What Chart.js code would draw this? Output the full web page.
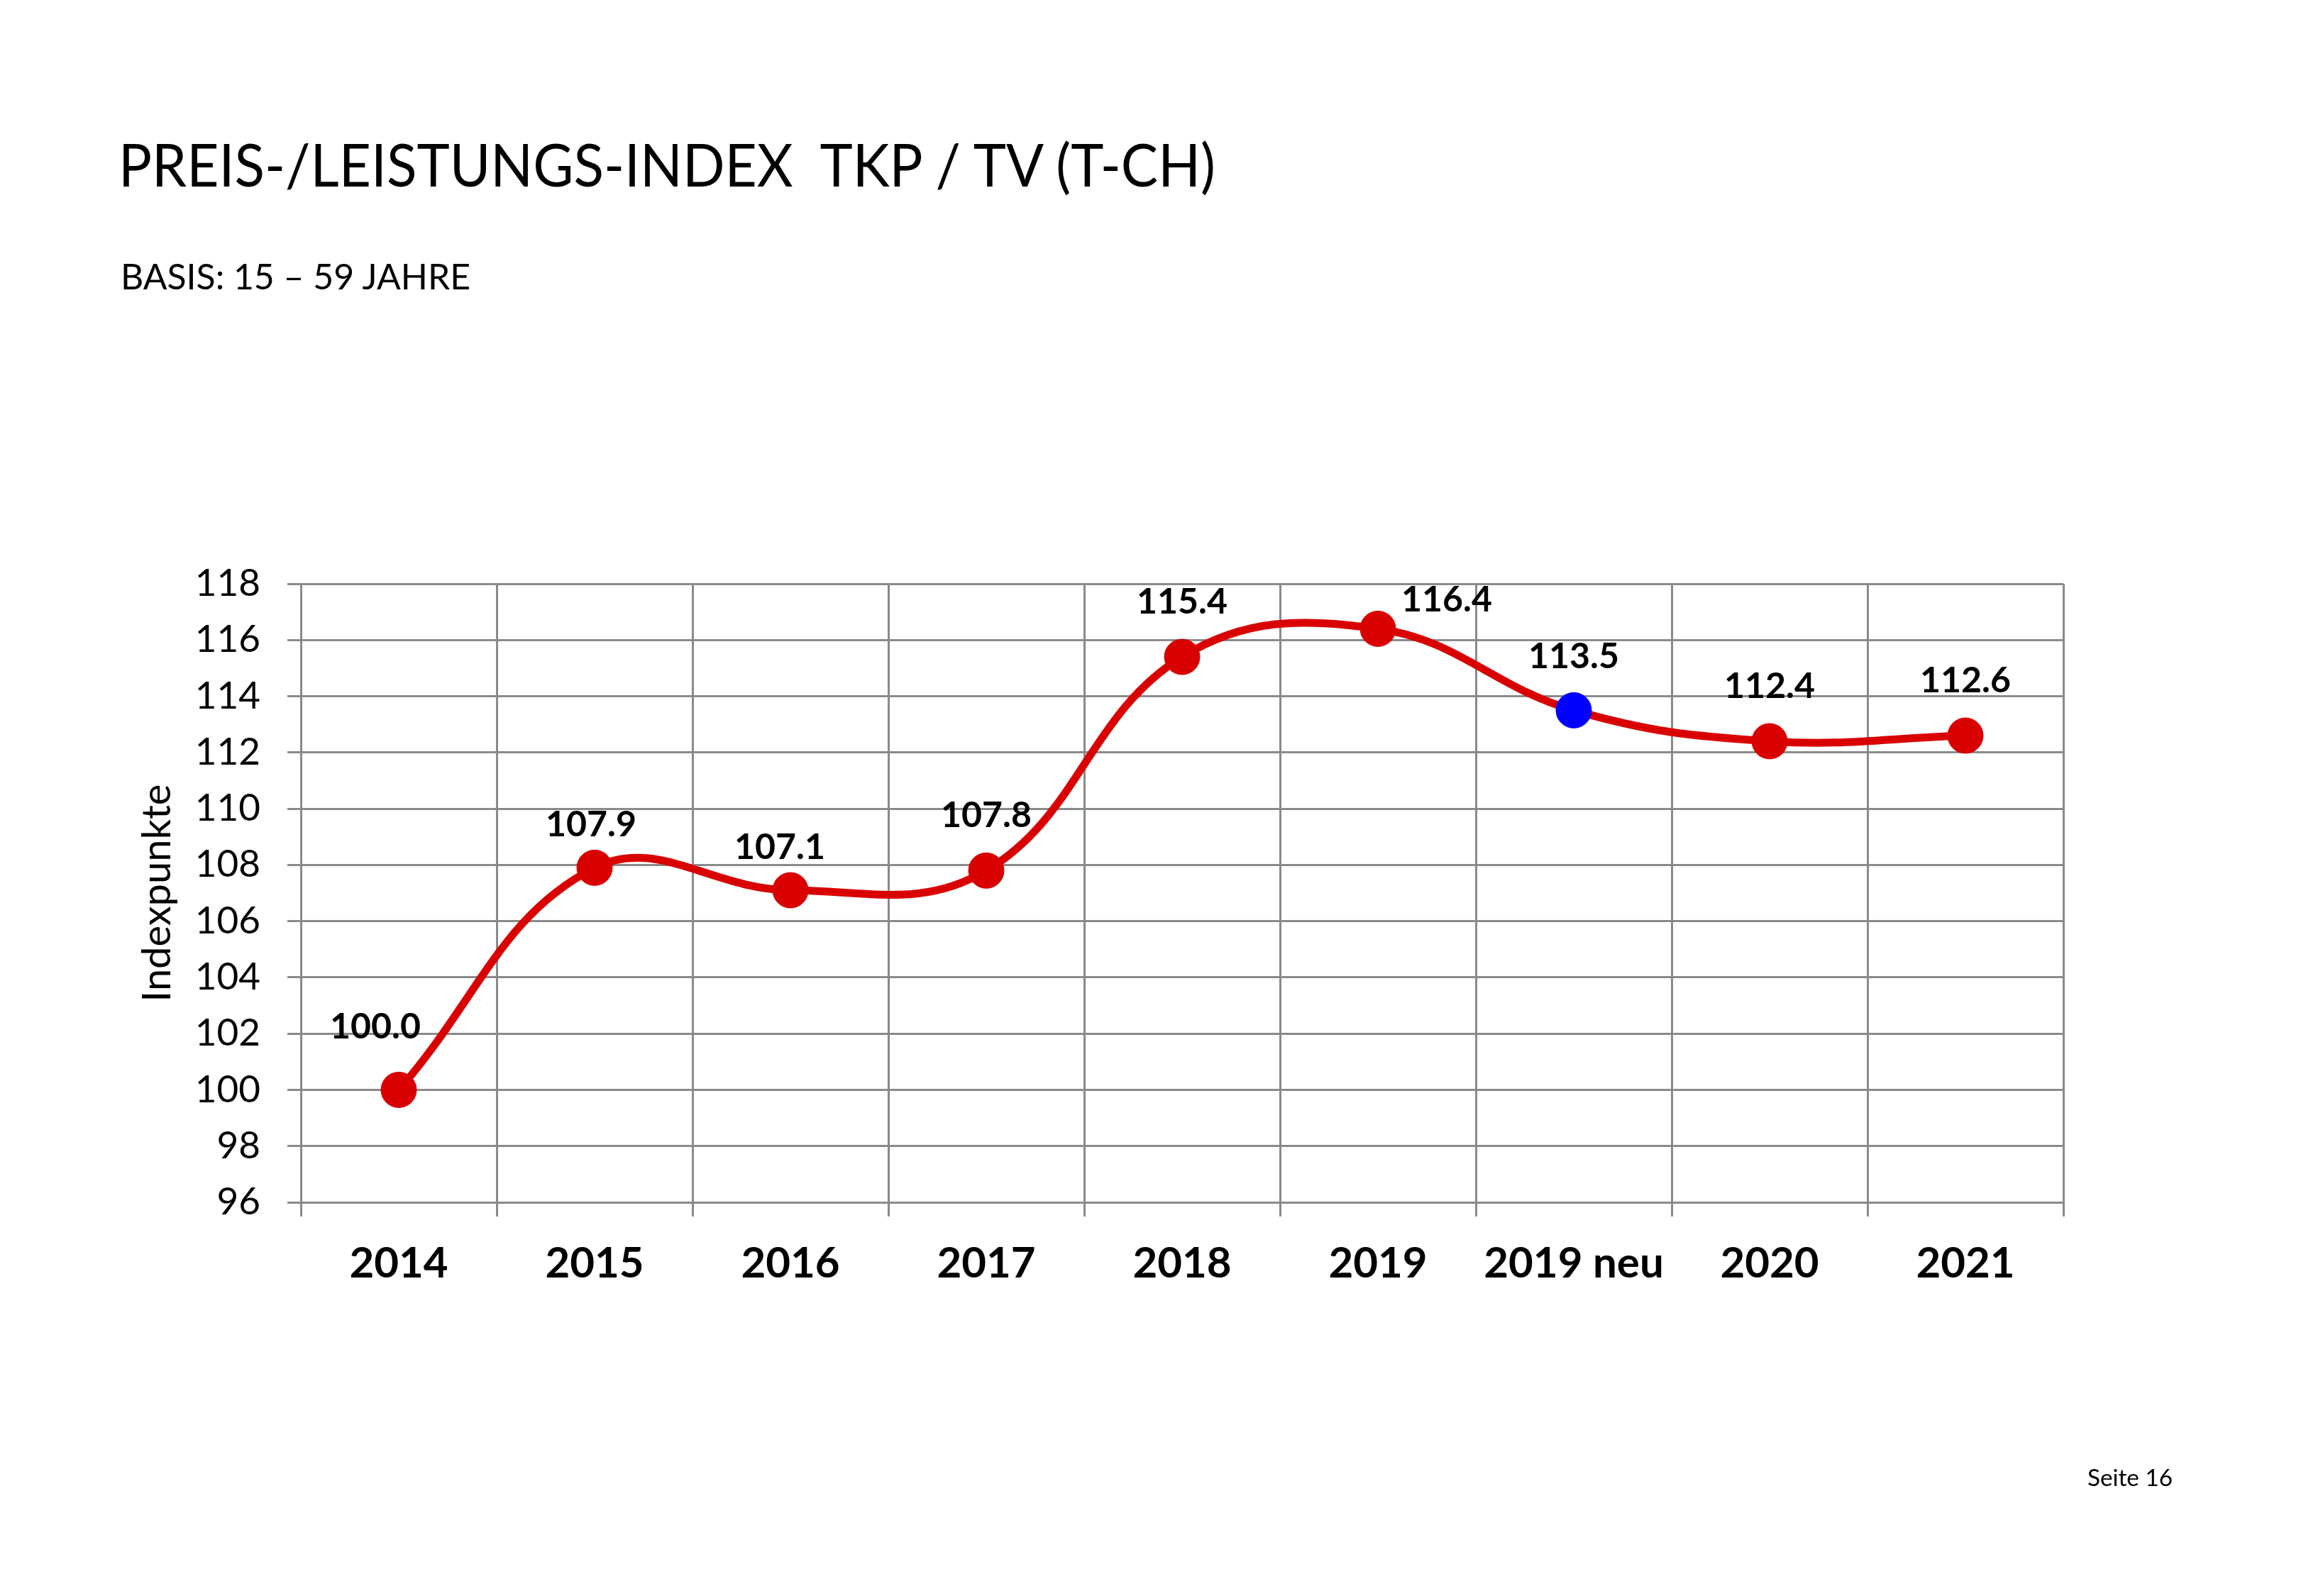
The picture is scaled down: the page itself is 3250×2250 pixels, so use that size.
<!DOCTYPE html>
<html>
<head>
<meta charset="utf-8">
<script src="https://cdn.jsdelivr.net/npm/chart.js@4.4.0/dist/chart.umd.min.js"></script>
<style>
  html, body { margin: 0; padding: 0; background: #fff; }
  #page { position: relative; width: 3250px; height: 2250px; overflow: hidden; background: #fff; }
  #chart { position: absolute; left: 0; top: 0; }
  .txt { position: absolute; white-space: nowrap; line-height: 1; font-family: Lato, "Open Sans", sans-serif; color: #000; transform-origin: 0 0; }
</style>
</head>
<body>
<div id="page">
  <canvas id="chart" width="3250" height="2250"></canvas>
  <div class="txt" id="title" data-w="1546" style="left:167px; top:189px; font-size:84px;">PREIS-/LEISTUNGS-INDEX&nbsp; TKP / TV (T-CH)</div>
  <div class="txt" id="subtitle" data-w="493" style="left:170px; top:364px; font-size:50px;">BASIS: 15 – 59 JAHRE</div>
  <div class="txt" id="footer" data-w="120" style="left:2942px; top:2067px; font-size:32px;">Seite 16</div>
</div>
<script>
// Werte aus der Grafik
const categories = ['2014', '2015', '2016', '2017', '2018', '2019', '2019 neu', '2020', '2021'];
const indexValues = [100.0, 107.9, 107.1, 107.8, 115.4, 116.4, 113.5, 112.4, 112.6];
const yTickValues = [96, 98, 100, 102, 104, 106, 108, 110, 112, 114, 116, 118];
const highlightCategory = '2019 neu';

// Stil
const red = '#D90000';
const blue = '#0000FF';
const gridGray = '#8a8a8a';
// Versatz der Wertebeschriftung (px) relativ zum Punkt
const labelOffsets = [[-33, -89], [-5, -60], [-15, -60], [0, -77], [0, -77], [97, -41], [0, -75], [0, -77], [0, -77]];

// Titeltexte auf Breite bringen
document.querySelectorAll('.txt').forEach(el => {
    const w = el.getBoundingClientRect().width;
    el.style.transform = 'scaleX(' + (Number(el.dataset.w) / w) + ')';
});

const valueLabels = {
    id: 'valueLabels',
    afterDatasetsDraw(chart) {
        const ctx = chart.ctx;
        const meta = chart.getDatasetMeta(0);
        ctx.save();
        ctx.font = 'bold 50px Lato';
        ctx.fillStyle = '#000';
        ctx.textAlign = 'center';
        ctx.textBaseline = 'middle';
        meta.data.forEach((pt, i) => {
            const off = labelOffsets[i];
            ctx.fillText(indexValues[i].toFixed(1), pt.x + off[0], pt.y + off[1]);
        });
        ctx.restore();
    }
};

const ctx = document.getElementById('chart').getContext('2d');
new Chart(ctx, {
    type: 'line',
    data: {
        labels: categories,
        datasets: [{
            label: 'Index',
            data: indexValues,
            borderColor: red,
            borderWidth: 11,
            tension: 0.4,
            fill: false,
            pointRadius: 25,
            pointHoverRadius: 25,
            pointBorderWidth: 1,
            pointBackgroundColor: c => categories[c.dataIndex] === highlightCategory ? blue : red,
            pointBorderColor: c => categories[c.dataIndex] === highlightCategory ? blue : red
        }]
    },
    options: {
        responsive: false,
        animation: false,
        devicePixelRatio: 1,
        layout: { padding: { left: 150, right: 342, top: 823, bottom: 355 } },
        plugins: {
            legend: { display: false },
            tooltip: { enabled: false }
        },
        scales: {
            x: {
                offset: true,
                grid: { offset: true, color: gridGray, lineWidth: 3, tickLength: 20, drawTicks: true },
                border: { color: gridGray, width: 3 },
                ticks: {
                    color: '#000',
                    font: { family: 'Lato', weight: 'bold', size: 60 },
                    padding: 31,
                    maxRotation: 0,
                    autoSkip: false
                },
                afterFit: s => { s.height = 200; }
            },
            y: {
                min: 96,
                max: 118,
                afterBuildTicks: s => { s.ticks = yTickValues.map(v => ({ value: v })); },
                grid: { color: gridGray, lineWidth: 3, tickLength: 19 },
                border: { color: gridGray, width: 3 },
                ticks: {
                    color: '#000',
                    font: { family: 'Lato', size: 53 },
                    padding: 38
                },
                title: {
                    display: true,
                    text: 'Indexpunkte',
                    color: '#000',
                    font: { family: 'Lato', size: 56 },
                    padding: { top: 38, bottom: 0 }
                },
                afterFit: s => { s.width = 274; }
            }
        }
    },
    plugins: [valueLabels]
});
</script>
</body>
</html>
